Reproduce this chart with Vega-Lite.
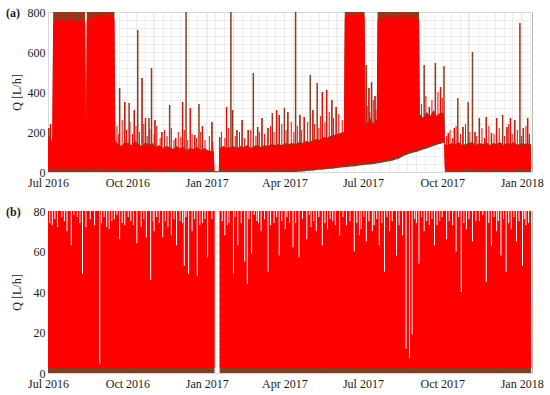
{
"$schema":"https://vega.github.io/schema/vega-lite/v6.json",
"padding":{"left":5,"top":5,"right":5,"bottom":5},
"spacing":15,
"config":{"font":"Liberation Serif","view":{"stroke":"#b4b4b4"},
"axis":{"labelFont":"Liberation Serif","labelFontSize":12,"labelColor":"#1a1a1a","titleFont":"Liberation Serif","titleFontSize":12,"titleFontWeight":"normal","titleColor":"#1a1a1a","ticks":false,"domain":false,"gridColor":"#e6e6e6","gridWidth":0.7,"labelOverlap":false},
"area":{"opacity":1}},
"datasets":{
"env":[
{"d":"2016-07-01","lo":0,"hi":160,"lr":15,"hr":150},
{"d":"2016-07-03","lo":0,"hi":185,"lr":15,"hr":175},
{"d":"2016-07-05","lo":0,"hi":150,"lr":15,"hr":140},
{"d":"2016-07-06","lo":0,"hi":180,"lr":15,"hr":170},
{"d":"2016-07-07","lo":0,"hi":800,"lr":15,"hr":740},
{"d":"2016-07-10","lo":0,"hi":800,"lr":15,"hr":765},
{"d":"2016-07-13","lo":0,"hi":800,"lr":15,"hr":750},
{"d":"2016-07-16","lo":0,"hi":800,"lr":15,"hr":770},
{"d":"2016-07-19","lo":0,"hi":800,"lr":15,"hr":745},
{"d":"2016-07-22","lo":0,"hi":800,"lr":15,"hr":765},
{"d":"2016-07-25","lo":0,"hi":800,"lr":15,"hr":755},
{"d":"2016-07-28","lo":0,"hi":800,"lr":15,"hr":770},
{"d":"2016-07-31","lo":0,"hi":800,"lr":15,"hr":750},
{"d":"2016-08-03","lo":0,"hi":800,"lr":15,"hr":760},
{"d":"2016-08-06","lo":0,"hi":800,"lr":15,"hr":745},
{"d":"2016-08-09","lo":0,"hi":800,"lr":15,"hr":765},
{"d":"2016-08-12","lo":0,"hi":800,"lr":15,"hr":750},
{"d":"2016-08-13","lo":0,"hi":800,"lr":15,"hr":740},
{"d":"2016-08-14","lo":0,"hi":190,"lr":15,"hr":180},
{"d":"2016-08-15","lo":0,"hi":800,"lr":15,"hr":760},
{"d":"2016-08-18","lo":0,"hi":800,"lr":15,"hr":775},
{"d":"2016-08-21","lo":0,"hi":800,"lr":15,"hr":760},
{"d":"2016-08-24","lo":0,"hi":800,"lr":15,"hr":780},
{"d":"2016-08-27","lo":0,"hi":800,"lr":15,"hr":770},
{"d":"2016-08-30","lo":0,"hi":800,"lr":15,"hr":790},
{"d":"2016-09-02","lo":0,"hi":800,"lr":15,"hr":775},
{"d":"2016-09-05","lo":0,"hi":800,"lr":15,"hr":785},
{"d":"2016-09-08","lo":0,"hi":800,"lr":15,"hr":770},
{"d":"2016-09-11","lo":0,"hi":800,"lr":15,"hr":790},
{"d":"2016-09-14","lo":0,"hi":800,"lr":15,"hr":780},
{"d":"2016-09-16","lo":0,"hi":800,"lr":15,"hr":760},
{"d":"2016-09-17","lo":0,"hi":160,"lr":15,"hr":150},
{"d":"2016-09-20","lo":0,"hi":140,"lr":15,"hr":130},
{"d":"2016-09-24","lo":0,"hi":130,"lr":15,"hr":120},
{"d":"2016-09-28","lo":0,"hi":150,"lr":15,"hr":140},
{"d":"2016-10-02","lo":0,"hi":145,"lr":15,"hr":135},
{"d":"2016-10-06","lo":0,"hi":135,"lr":15,"hr":125},
{"d":"2016-10-10","lo":0,"hi":155,"lr":15,"hr":145},
{"d":"2016-10-14","lo":0,"hi":140,"lr":15,"hr":130},
{"d":"2016-10-18","lo":0,"hi":130,"lr":15,"hr":120},
{"d":"2016-10-22","lo":0,"hi":150,"lr":15,"hr":140},
{"d":"2016-10-26","lo":0,"hi":135,"lr":15,"hr":125},
{"d":"2016-10-30","lo":0,"hi":145,"lr":15,"hr":135},
{"d":"2016-11-03","lo":0,"hi":125,"lr":15,"hr":115},
{"d":"2016-11-07","lo":0,"hi":135,"lr":15,"hr":125},
{"d":"2016-11-11","lo":0,"hi":120,"lr":15,"hr":110},
{"d":"2016-11-15","lo":0,"hi":130,"lr":15,"hr":120},
{"d":"2016-11-19","lo":0,"hi":125,"lr":15,"hr":115},
{"d":"2016-11-23","lo":0,"hi":115,"lr":15,"hr":105},
{"d":"2016-11-27","lo":0,"hi":130,"lr":15,"hr":120},
{"d":"2016-12-01","lo":0,"hi":120,"lr":15,"hr":110},
{"d":"2016-12-05","lo":0,"hi":125,"lr":15,"hr":115},
{"d":"2016-12-09","lo":0,"hi":110,"lr":15,"hr":100},
{"d":"2016-12-13","lo":0,"hi":120,"lr":15,"hr":110},
{"d":"2016-12-17","lo":0,"hi":115,"lr":15,"hr":105},
{"d":"2016-12-21","lo":0,"hi":125,"lr":15,"hr":115},
{"d":"2016-12-25","lo":0,"hi":110,"lr":15,"hr":100},
{"d":"2016-12-29","lo":0,"hi":120,"lr":15,"hr":110},
{"d":"2017-01-02","lo":0,"hi":110,"lr":15,"hr":100},
{"d":"2017-01-06","lo":0,"hi":105,"lr":15,"hr":95},
{"d":"2017-01-09","lo":0,"hi":110,"lr":15,"hr":100},
{"d":"2017-01-10","lo":0,"hi":5,"lr":0,"hr":0},
{"d":"2017-01-15","lo":0,"hi":5,"lr":0,"hr":0},
{"d":"2017-01-16","lo":0,"hi":120,"lr":15,"hr":110},
{"d":"2017-01-20","lo":0,"hi":130,"lr":15,"hr":120},
{"d":"2017-01-24","lo":0,"hi":120,"lr":15,"hr":110},
{"d":"2017-01-28","lo":0,"hi":125,"lr":15,"hr":115},
{"d":"2017-02-01","lo":0,"hi":130,"lr":15,"hr":120},
{"d":"2017-02-05","lo":0,"hi":120,"lr":15,"hr":110},
{"d":"2017-02-09","lo":0,"hi":130,"lr":15,"hr":120},
{"d":"2017-02-13","lo":0,"hi":125,"lr":15,"hr":115},
{"d":"2017-02-17","lo":0,"hi":135,"lr":15,"hr":125},
{"d":"2017-02-21","lo":0,"hi":120,"lr":15,"hr":110},
{"d":"2017-02-25","lo":0,"hi":130,"lr":15,"hr":120},
{"d":"2017-03-01","lo":0,"hi":135,"lr":15,"hr":125},
{"d":"2017-03-05","lo":0,"hi":125,"lr":15,"hr":115},
{"d":"2017-03-09","lo":0,"hi":135,"lr":15,"hr":125},
{"d":"2017-03-13","lo":0,"hi":130,"lr":15,"hr":120},
{"d":"2017-03-17","lo":0,"hi":140,"lr":15,"hr":130},
{"d":"2017-03-21","lo":0,"hi":135,"lr":15,"hr":125},
{"d":"2017-03-25","lo":0,"hi":140,"lr":15,"hr":130},
{"d":"2017-03-29","lo":0,"hi":135,"lr":15,"hr":125},
{"d":"2017-04-02","lo":0,"hi":145,"lr":15,"hr":135},
{"d":"2017-04-06","lo":0,"hi":140,"lr":15,"hr":130},
{"d":"2017-04-10","lo":0,"hi":145,"lr":12,"hr":135},
{"d":"2017-04-14","lo":0,"hi":140,"lr":12,"hr":130},
{"d":"2017-04-18","lo":2,"hi":150,"lr":14,"hr":140},
{"d":"2017-04-22","lo":3,"hi":145,"lr":15,"hr":135},
{"d":"2017-04-26","lo":5,"hi":155,"lr":16,"hr":145},
{"d":"2017-04-30","lo":6,"hi":150,"lr":17,"hr":140},
{"d":"2017-05-04","lo":8,"hi":160,"lr":18,"hr":150},
{"d":"2017-05-08","lo":10,"hi":165,"lr":20,"hr":155},
{"d":"2017-05-12","lo":12,"hi":160,"lr":22,"hr":150},
{"d":"2017-05-16","lo":13,"hi":175,"lr":23,"hr":165},
{"d":"2017-05-20","lo":15,"hi":170,"lr":25,"hr":160},
{"d":"2017-05-24","lo":16,"hi":180,"lr":26,"hr":170},
{"d":"2017-05-28","lo":18,"hi":185,"lr":28,"hr":175},
{"d":"2017-06-01","lo":20,"hi":190,"lr":30,"hr":180},
{"d":"2017-06-05","lo":22,"hi":195,"lr":32,"hr":185},
{"d":"2017-06-09","lo":24,"hi":200,"lr":34,"hr":190},
{"d":"2017-06-10","lo":24,"hi":800,"lr":34,"hr":770},
{"d":"2017-06-13","lo":25,"hi":800,"lr":35,"hr":785},
{"d":"2017-06-16","lo":27,"hi":800,"lr":37,"hr":790},
{"d":"2017-06-19","lo":28,"hi":800,"lr":38,"hr":780},
{"d":"2017-06-22","lo":29,"hi":800,"lr":39,"hr":795},
{"d":"2017-06-25","lo":31,"hi":800,"lr":41,"hr":785},
{"d":"2017-06-28","lo":33,"hi":800,"lr":43,"hr":790},
{"d":"2017-07-02","lo":35,"hi":800,"lr":45,"hr":780},
{"d":"2017-07-03","lo":35,"hi":800,"lr":45,"hr":770},
{"d":"2017-07-04","lo":35,"hi":240,"lr":45,"hr":230},
{"d":"2017-07-07","lo":37,"hi":250,"lr":47,"hr":240},
{"d":"2017-07-10","lo":38,"hi":270,"lr":48,"hr":260},
{"d":"2017-07-13","lo":40,"hi":240,"lr":50,"hr":230},
{"d":"2017-07-17","lo":42,"hi":260,"lr":52,"hr":250},
{"d":"2017-07-18","lo":43,"hi":800,"lr":53,"hr":760},
{"d":"2017-07-21","lo":45,"hi":800,"lr":55,"hr":775},
{"d":"2017-07-24","lo":47,"hi":800,"lr":57,"hr":760},
{"d":"2017-07-27","lo":50,"hi":800,"lr":60,"hr":780},
{"d":"2017-07-30","lo":52,"hi":800,"lr":62,"hr":770},
{"d":"2017-08-02","lo":55,"hi":800,"lr":65,"hr":785},
{"d":"2017-08-05","lo":58,"hi":800,"lr":68,"hr":765},
{"d":"2017-08-08","lo":62,"hi":800,"lr":72,"hr":780},
{"d":"2017-08-11","lo":65,"hi":800,"lr":75,"hr":770},
{"d":"2017-08-14","lo":72,"hi":800,"lr":82,"hr":790},
{"d":"2017-08-17","lo":80,"hi":800,"lr":90,"hr":775},
{"d":"2017-08-20","lo":85,"hi":800,"lr":95,"hr":760},
{"d":"2017-08-23","lo":90,"hi":800,"lr":100,"hr":785},
{"d":"2017-08-26","lo":94,"hi":800,"lr":104,"hr":770},
{"d":"2017-08-29","lo":98,"hi":800,"lr":108,"hr":780},
{"d":"2017-09-01","lo":100,"hi":800,"lr":110,"hr":765},
{"d":"2017-09-04","lo":105,"hi":800,"lr":115,"hr":760},
{"d":"2017-09-05","lo":106,"hi":290,"lr":116,"hr":280},
{"d":"2017-09-09","lo":112,"hi":270,"lr":122,"hr":260},
{"d":"2017-09-13","lo":118,"hi":300,"lr":128,"hr":290},
{"d":"2017-09-17","lo":124,"hi":280,"lr":134,"hr":270},
{"d":"2017-09-21","lo":130,"hi":310,"lr":140,"hr":300},
{"d":"2017-09-25","lo":136,"hi":280,"lr":146,"hr":270},
{"d":"2017-09-29","lo":142,"hi":300,"lr":152,"hr":290},
{"d":"2017-10-03","lo":145,"hi":290,"lr":155,"hr":280},
{"d":"2017-10-04","lo":0,"hi":140,"lr":15,"hr":130},
{"d":"2017-10-08","lo":0,"hi":135,"lr":15,"hr":125},
{"d":"2017-10-12","lo":0,"hi":145,"lr":15,"hr":135},
{"d":"2017-10-16","lo":0,"hi":140,"lr":15,"hr":130},
{"d":"2017-10-20","lo":0,"hi":150,"lr":15,"hr":140},
{"d":"2017-10-24","lo":0,"hi":135,"lr":15,"hr":125},
{"d":"2017-10-28","lo":0,"hi":140,"lr":15,"hr":130},
{"d":"2017-11-01","lo":0,"hi":145,"lr":15,"hr":135},
{"d":"2017-11-05","lo":0,"hi":150,"lr":15,"hr":140},
{"d":"2017-11-09","lo":0,"hi":135,"lr":15,"hr":125},
{"d":"2017-11-13","lo":0,"hi":145,"lr":15,"hr":135},
{"d":"2017-11-17","lo":0,"hi":140,"lr":15,"hr":130},
{"d":"2017-11-21","lo":0,"hi":150,"lr":15,"hr":140},
{"d":"2017-11-25","lo":0,"hi":135,"lr":15,"hr":125},
{"d":"2017-11-29","lo":0,"hi":145,"lr":15,"hr":135},
{"d":"2017-12-03","lo":0,"hi":140,"lr":15,"hr":130},
{"d":"2017-12-07","lo":0,"hi":150,"lr":15,"hr":140},
{"d":"2017-12-11","lo":0,"hi":135,"lr":15,"hr":125},
{"d":"2017-12-15","lo":0,"hi":145,"lr":15,"hr":135},
{"d":"2017-12-19","lo":0,"hi":140,"lr":15,"hr":130},
{"d":"2017-12-23","lo":0,"hi":150,"lr":15,"hr":140},
{"d":"2017-12-27","lo":0,"hi":135,"lr":15,"hr":125},
{"d":"2017-12-31","lo":0,"hi":145,"lr":15,"hr":135},
{"d":"2018-01-04","lo":0,"hi":140,"lr":15,"hr":130},
{"d":"2018-01-08","lo":0,"hi":145,"lr":15,"hr":135},
{"d":"2018-01-11","lo":0,"hi":140,"lr":15,"hr":125},
{"d":"2018-01-12","lo":0,"hi":140,"lr":15,"hr":15}
],
"spk":[
{"d":"2016-07-02","lo":0,"hi":220,"c":"r"},
{"d":"2016-07-04","lo":0,"hi":240,"c":"r"},
{"d":"2016-07-15","lo":0,"hi":800,"c":"r"},
{"d":"2016-07-27","lo":0,"hi":800,"c":"r"},
{"d":"2016-08-07","lo":0,"hi":800,"c":"r"},
{"d":"2016-08-24","lo":0,"hi":800,"c":"r"},
{"d":"2016-09-01","lo":0,"hi":800,"c":"r"},
{"d":"2016-09-04","lo":0,"hi":800,"c":"r"},
{"d":"2016-09-09","lo":0,"hi":800,"c":"r"},
{"d":"2016-09-12","lo":0,"hi":800,"c":"r"},
{"d":"2016-09-22","lo":0,"hi":420,"c":"r"},
{"d":"2016-09-28","lo":0,"hi":350,"c":"r"},
{"d":"2016-10-03","lo":0,"hi":345,"c":"b"},
{"d":"2016-10-09","lo":0,"hi":310,"c":"r"},
{"d":"2016-10-13","lo":0,"hi":710,"c":"b"},
{"d":"2016-10-18","lo":0,"hi":470,"c":"r"},
{"d":"2016-10-22","lo":0,"hi":270,"c":"r"},
{"d":"2016-10-26","lo":0,"hi":270,"c":"b"},
{"d":"2016-10-29","lo":0,"hi":520,"c":"b"},
{"d":"2016-11-02","lo":0,"hi":260,"c":"r"},
{"d":"2016-11-10","lo":0,"hi":200,"c":"r"},
{"d":"2016-11-19","lo":0,"hi":335,"c":"b"},
{"d":"2016-11-26","lo":0,"hi":170,"c":"r"},
{"d":"2016-12-04","lo":0,"hi":350,"c":"r"},
{"d":"2016-12-08","lo":0,"hi":800,"c":"b"},
{"d":"2016-12-13","lo":0,"hi":320,"c":"r"},
{"d":"2016-12-18","lo":0,"hi":185,"c":"r"},
{"d":"2016-12-23","lo":0,"hi":340,"c":"b"},
{"d":"2016-12-27","lo":0,"hi":230,"c":"r"},
{"d":"2017-01-07","lo":0,"hi":250,"c":"r"},
{"d":"2017-01-16","lo":0,"hi":175,"c":"b"},
{"d":"2017-01-24","lo":0,"hi":325,"c":"r"},
{"d":"2017-01-29","lo":0,"hi":800,"c":"b"},
{"d":"2017-01-31","lo":0,"hi":310,"c":"b"},
{"d":"2017-02-05","lo":0,"hi":210,"c":"r"},
{"d":"2017-02-11","lo":0,"hi":260,"c":"r"},
{"d":"2017-02-18","lo":0,"hi":210,"c":"r"},
{"d":"2017-02-24","lo":0,"hi":495,"c":"b"},
{"d":"2017-03-01","lo":0,"hi":225,"c":"r"},
{"d":"2017-03-06","lo":0,"hi":270,"c":"r"},
{"d":"2017-03-13","lo":0,"hi":220,"c":"r"},
{"d":"2017-03-18","lo":0,"hi":295,"c":"b"},
{"d":"2017-03-23","lo":0,"hi":310,"c":"r"},
{"d":"2017-03-26","lo":0,"hi":285,"c":"r"},
{"d":"2017-04-01","lo":0,"hi":320,"c":"b"},
{"d":"2017-04-05","lo":0,"hi":300,"c":"r"},
{"d":"2017-04-14","lo":0,"hi":800,"c":"b"},
{"d":"2017-04-19","lo":2,"hi":285,"c":"r"},
{"d":"2017-04-24","lo":4,"hi":275,"c":"r"},
{"d":"2017-05-01","lo":7,"hi":485,"c":"b"},
{"d":"2017-05-04","lo":8,"hi":310,"c":"r"},
{"d":"2017-05-09","lo":10,"hi":445,"c":"b"},
{"d":"2017-05-15","lo":13,"hi":400,"c":"r"},
{"d":"2017-05-20","lo":15,"hi":410,"c":"r"},
{"d":"2017-05-26","lo":17,"hi":360,"c":"r"},
{"d":"2017-05-31","lo":20,"hi":325,"c":"r"},
{"d":"2017-06-15","lo":27,"hi":800,"c":"r"},
{"d":"2017-06-24","lo":30,"hi":800,"c":"r"},
{"d":"2017-07-05","lo":40,"hi":535,"c":"b"},
{"d":"2017-07-08","lo":40,"hi":420,"c":"r"},
{"d":"2017-07-11","lo":40,"hi":450,"c":"r"},
{"d":"2017-07-15","lo":42,"hi":380,"c":"r"},
{"d":"2017-07-25","lo":50,"hi":800,"c":"r"},
{"d":"2017-08-12","lo":70,"hi":800,"c":"r"},
{"d":"2017-08-20","lo":85,"hi":800,"c":"r"},
{"d":"2017-09-10","lo":115,"hi":535,"c":"b"},
{"d":"2017-09-16","lo":125,"hi":325,"c":"r"},
{"d":"2017-09-23","lo":135,"hi":545,"c":"b"},
{"d":"2017-09-29","lo":142,"hi":425,"c":"r"},
{"d":"2017-10-03","lo":145,"hi":530,"c":"b"},
{"d":"2017-10-08","lo":0,"hi":195,"c":"r"},
{"d":"2017-10-15","lo":0,"hi":220,"c":"r"},
{"d":"2017-10-19","lo":0,"hi":370,"c":"b"},
{"d":"2017-10-25","lo":0,"hi":225,"c":"r"},
{"d":"2017-10-31","lo":0,"hi":350,"c":"b"},
{"d":"2017-11-05","lo":0,"hi":600,"c":"b"},
{"d":"2017-11-08","lo":0,"hi":200,"c":"r"},
{"d":"2017-11-13","lo":0,"hi":270,"c":"r"},
{"d":"2017-11-21","lo":0,"hi":275,"c":"r"},
{"d":"2017-11-27","lo":0,"hi":195,"c":"r"},
{"d":"2017-12-03","lo":0,"hi":270,"c":"r"},
{"d":"2017-12-10","lo":0,"hi":285,"c":"b"},
{"d":"2017-12-15","lo":0,"hi":225,"c":"r"},
{"d":"2017-12-19","lo":0,"hi":270,"c":"r"},
{"d":"2017-12-24","lo":0,"hi":260,"c":"r"},
{"d":"2017-12-30","lo":0,"hi":745,"c":"b"},
{"d":"2018-01-03","lo":0,"hi":220,"c":"r"},
{"d":"2018-01-08","lo":0,"hi":270,"c":"r"}
],
"rsp":[
{"d":"2016-09-19","lo":0,"hi":230},{"d":"2016-09-21","lo":0,"hi":190},{"d":"2016-09-25","lo":0,"hi":260},
{"d":"2016-09-30","lo":0,"hi":210},{"d":"2016-10-04","lo":0,"hi":250},{"d":"2016-10-07","lo":0,"hi":190},
{"d":"2016-10-11","lo":0,"hi":230},{"d":"2016-10-15","lo":0,"hi":200},{"d":"2016-10-20","lo":0,"hi":240},
{"d":"2016-10-24","lo":0,"hi":180},{"d":"2016-10-27","lo":0,"hi":215},{"d":"2016-11-01","lo":0,"hi":190},
{"d":"2016-11-04","lo":0,"hi":230},{"d":"2016-11-08","lo":0,"hi":170},{"d":"2016-11-13","lo":0,"hi":210},
{"d":"2016-11-16","lo":0,"hi":180},{"d":"2016-11-21","lo":0,"hi":220},{"d":"2016-11-24","lo":0,"hi":160},
{"d":"2016-11-29","lo":0,"hi":200},{"d":"2016-12-02","lo":0,"hi":175},{"d":"2016-12-06","lo":0,"hi":210},
{"d":"2016-12-10","lo":0,"hi":160},{"d":"2016-12-15","lo":0,"hi":190},{"d":"2016-12-20","lo":0,"hi":170},
{"d":"2016-12-25","lo":0,"hi":200},{"d":"2016-12-30","lo":0,"hi":160},{"d":"2017-01-04","lo":0,"hi":180},
{"d":"2017-01-08","lo":0,"hi":150},{"d":"2017-01-18","lo":0,"hi":200},{"d":"2017-01-22","lo":0,"hi":170},
{"d":"2017-01-26","lo":0,"hi":220},{"d":"2017-02-03","lo":0,"hi":180},{"d":"2017-02-08","lo":0,"hi":200},
{"d":"2017-02-14","lo":0,"hi":170},{"d":"2017-02-21","lo":0,"hi":210},{"d":"2017-02-27","lo":0,"hi":180},
{"d":"2017-03-03","lo":0,"hi":200},{"d":"2017-03-09","lo":0,"hi":190},{"d":"2017-03-16","lo":0,"hi":230},
{"d":"2017-03-20","lo":0,"hi":200},{"d":"2017-03-29","lo":0,"hi":240},{"d":"2017-04-03","lo":0,"hi":210},
{"d":"2017-04-09","lo":0,"hi":250},{"d":"2017-04-12","lo":0,"hi":200},{"d":"2017-04-16","lo":1,"hi":230},
{"d":"2017-04-21","lo":3,"hi":210},{"d":"2017-04-28","lo":6,"hi":250},{"d":"2017-05-06","lo":9,"hi":240},
{"d":"2017-05-11","lo":11,"hi":220},{"d":"2017-05-13","lo":12,"hi":280},{"d":"2017-05-18","lo":14,"hi":250},
{"d":"2017-05-23","lo":16,"hi":300},{"d":"2017-05-28","lo":18,"hi":270},{"d":"2017-06-03","lo":21,"hi":290},
{"d":"2017-06-07","lo":23,"hi":260},{"d":"2017-07-06","lo":45,"hi":330},{"d":"2017-07-09","lo":47,"hi":300},
{"d":"2017-07-13","lo":50,"hi":360},{"d":"2017-07-16","lo":52,"hi":310},{"d":"2017-09-07","lo":118,"hi":340},
{"d":"2017-09-12","lo":126,"hi":380},{"d":"2017-09-19","lo":137,"hi":360},{"d":"2017-09-26","lo":147,"hi":400},
{"d":"2017-10-01","lo":153,"hi":370},{"d":"2017-10-06","lo":0,"hi":180},{"d":"2017-10-10","lo":0,"hi":210},
{"d":"2017-10-13","lo":0,"hi":170},{"d":"2017-10-17","lo":0,"hi":230},{"d":"2017-10-22","lo":0,"hi":190},
{"d":"2017-10-28","lo":0,"hi":240},{"d":"2017-11-02","lo":0,"hi":200},{"d":"2017-11-10","lo":0,"hi":180},
{"d":"2017-11-16","lo":0,"hi":220},{"d":"2017-11-19","lo":0,"hi":170},{"d":"2017-11-24","lo":0,"hi":230},
{"d":"2017-11-30","lo":0,"hi":190},{"d":"2017-12-06","lo":0,"hi":220},{"d":"2017-12-12","lo":0,"hi":180},
{"d":"2017-12-17","lo":0,"hi":240},{"d":"2017-12-21","lo":0,"hi":190},{"d":"2017-12-27","lo":0,"hi":210},
{"d":"2018-01-01","lo":0,"hi":180},{"d":"2018-01-06","lo":0,"hi":230},{"d":"2018-01-10","lo":0,"hi":190}
],
"bot":[
{"d":"2016-07-01","seg":1,"lo":0,"hi":80,"lr":2.5,"hr":80},
{"d":"2017-01-10","seg":1,"lo":0,"hi":80,"lr":2.5,"hr":80},
{"d":"2017-01-16","seg":2,"lo":0,"hi":80,"lr":2.5,"hr":80},
{"d":"2018-01-11","seg":2,"lo":0,"hi":80,"lr":2.5,"hr":80},
{"d":"2018-01-12","seg":2,"lo":0,"hi":80,"lr":2.5,"hr":2.5}
],
"dip":[
{"d":"2016-07-03","lo":74,"hi":80},{"d":"2016-07-06","lo":73,"hi":80},{"d":"2016-07-09","lo":76,"hi":80},
{"d":"2016-07-12","lo":72,"hi":80},{"d":"2016-07-17","lo":77,"hi":80},{"d":"2016-07-20","lo":75,"hi":80},
{"d":"2016-07-23","lo":70,"hi":80},{"d":"2016-07-28","lo":63,"hi":80},{"d":"2016-07-31","lo":78,"hi":80},
{"d":"2016-08-04","lo":77,"hi":80},{"d":"2016-08-07","lo":74,"hi":80},{"d":"2016-08-10","lo":49,"hi":80},
{"d":"2016-08-14","lo":72,"hi":80},{"d":"2016-08-19","lo":76,"hi":80},{"d":"2016-08-24","lo":73,"hi":80},
{"d":"2016-08-30","lo":4.5,"hi":80},{"d":"2016-09-01","lo":74,"hi":80},{"d":"2016-09-04","lo":77,"hi":80},
{"d":"2016-09-07","lo":72,"hi":80},{"d":"2016-09-10","lo":71,"hi":80},{"d":"2016-09-13","lo":75,"hi":80},
{"d":"2016-09-16","lo":76,"hi":80},{"d":"2016-09-19","lo":78,"hi":80},{"d":"2016-09-22","lo":66,"hi":80},
{"d":"2016-09-25","lo":74,"hi":80},{"d":"2016-09-28","lo":73,"hi":80},{"d":"2016-10-02","lo":77,"hi":80},
{"d":"2016-10-05","lo":75,"hi":80},{"d":"2016-10-08","lo":73,"hi":80},{"d":"2016-10-12","lo":64,"hi":80},
{"d":"2016-10-17","lo":72,"hi":80},{"d":"2016-10-20","lo":76,"hi":80},{"d":"2016-10-23","lo":67,"hi":80},
{"d":"2016-10-28","lo":46,"hi":80},{"d":"2016-10-31","lo":75,"hi":80},{"d":"2016-11-01","lo":70,"hi":80},
{"d":"2016-11-04","lo":77,"hi":80},{"d":"2016-11-07","lo":74,"hi":80},{"d":"2016-11-11","lo":67,"hi":80},
{"d":"2016-11-14","lo":75,"hi":80},{"d":"2016-11-17","lo":72,"hi":80},{"d":"2016-11-21","lo":68,"hi":80},
{"d":"2016-11-24","lo":76,"hi":80},{"d":"2016-11-27","lo":63,"hi":80},{"d":"2016-12-01","lo":75,"hi":80},
{"d":"2016-12-04","lo":74,"hi":80},{"d":"2016-12-06","lo":53,"hi":80},{"d":"2016-12-08","lo":77,"hi":80},
{"d":"2016-12-11","lo":49,"hi":80},{"d":"2016-12-15","lo":70,"hi":80},{"d":"2016-12-18","lo":76,"hi":80},
{"d":"2016-12-21","lo":48,"hi":80},{"d":"2016-12-24","lo":73,"hi":80},{"d":"2016-12-27","lo":74,"hi":80},
{"d":"2016-12-30","lo":76,"hi":80},{"d":"2017-01-02","lo":57,"hi":80},{"d":"2017-01-07","lo":76,"hi":80},
{"d":"2017-01-19","lo":75,"hi":80},{"d":"2017-01-22","lo":68,"hi":80},{"d":"2017-01-25","lo":73,"hi":80},
{"d":"2017-01-27","lo":74,"hi":80},{"d":"2017-02-01","lo":49,"hi":80},{"d":"2017-02-03","lo":77,"hi":80},
{"d":"2017-02-06","lo":63,"hi":80},{"d":"2017-02-10","lo":74,"hi":80},{"d":"2017-02-14","lo":55,"hi":80},
{"d":"2017-02-17","lo":44,"hi":80},{"d":"2017-02-19","lo":76,"hi":80},{"d":"2017-02-22","lo":59,"hi":80},
{"d":"2017-02-25","lo":78,"hi":80},{"d":"2017-02-28","lo":75,"hi":80},{"d":"2017-03-02","lo":74,"hi":80},
{"d":"2017-03-05","lo":70,"hi":80},{"d":"2017-03-09","lo":76,"hi":80},{"d":"2017-03-13","lo":50,"hi":80},
{"d":"2017-03-16","lo":73,"hi":80},{"d":"2017-03-20","lo":74,"hi":80},{"d":"2017-03-23","lo":77,"hi":80},
{"d":"2017-03-26","lo":58,"hi":80},{"d":"2017-03-29","lo":75,"hi":80},{"d":"2017-04-02","lo":71,"hi":80},
{"d":"2017-04-04","lo":77,"hi":80},{"d":"2017-04-07","lo":74,"hi":80},{"d":"2017-04-11","lo":62,"hi":80},
{"d":"2017-04-14","lo":74,"hi":80},{"d":"2017-04-18","lo":57,"hi":80},{"d":"2017-04-22","lo":76,"hi":80},
{"d":"2017-04-27","lo":66,"hi":80},{"d":"2017-04-30","lo":78,"hi":80},{"d":"2017-05-02","lo":72,"hi":80},
{"d":"2017-05-05","lo":75,"hi":80},{"d":"2017-05-08","lo":70,"hi":80},{"d":"2017-05-11","lo":77,"hi":80},
{"d":"2017-05-15","lo":63,"hi":80},{"d":"2017-05-18","lo":74,"hi":80},{"d":"2017-05-21","lo":71,"hi":80},
{"d":"2017-05-24","lo":76,"hi":80},{"d":"2017-05-27","lo":75,"hi":80},{"d":"2017-05-30","lo":73,"hi":80},
{"d":"2017-06-04","lo":68,"hi":80},{"d":"2017-06-08","lo":77,"hi":80},{"d":"2017-06-12","lo":73,"hi":80},
{"d":"2017-06-16","lo":75,"hi":80},{"d":"2017-06-21","lo":60,"hi":80},{"d":"2017-06-24","lo":74,"hi":80},
{"d":"2017-06-27","lo":68,"hi":80},{"d":"2017-06-29","lo":71,"hi":80},{"d":"2017-07-02","lo":77,"hi":80},
{"d":"2017-07-05","lo":65,"hi":80},{"d":"2017-07-08","lo":75,"hi":80},{"d":"2017-07-12","lo":70,"hi":80},
{"d":"2017-07-14","lo":73,"hi":80},{"d":"2017-07-17","lo":76,"hi":80},{"d":"2017-07-20","lo":63,"hi":80},
{"d":"2017-07-23","lo":74,"hi":80},{"d":"2017-07-26","lo":50,"hi":80},{"d":"2017-07-29","lo":77,"hi":80},
{"d":"2017-08-01","lo":70,"hi":80},{"d":"2017-08-04","lo":75,"hi":80},{"d":"2017-08-09","lo":58,"hi":80},
{"d":"2017-08-12","lo":73,"hi":80},{"d":"2017-08-16","lo":68,"hi":80},{"d":"2017-08-20","lo":12,"hi":80},
{"d":"2017-08-24","lo":7.5,"hi":80},{"d":"2017-08-27","lo":19,"hi":80},{"d":"2017-08-30","lo":76,"hi":80},
{"d":"2017-09-01","lo":74,"hi":80},{"d":"2017-09-04","lo":54,"hi":80},{"d":"2017-09-07","lo":77,"hi":80},
{"d":"2017-09-10","lo":70,"hi":80},{"d":"2017-09-13","lo":75,"hi":80},{"d":"2017-09-16","lo":73,"hi":80},
{"d":"2017-09-19","lo":76,"hi":80},{"d":"2017-09-22","lo":63,"hi":80},{"d":"2017-09-25","lo":73,"hi":80},
{"d":"2017-09-28","lo":75,"hi":80},{"d":"2017-10-01","lo":77,"hi":80},{"d":"2017-10-06","lo":66,"hi":80},
{"d":"2017-10-09","lo":75,"hi":80},{"d":"2017-10-13","lo":73,"hi":80},{"d":"2017-10-17","lo":60,"hi":80},
{"d":"2017-10-20","lo":77,"hi":80},{"d":"2017-10-23","lo":40,"hi":80},{"d":"2017-10-26","lo":74,"hi":80},
{"d":"2017-10-29","lo":71,"hi":80},{"d":"2017-11-01","lo":76,"hi":80},{"d":"2017-11-05","lo":65,"hi":80},
{"d":"2017-11-09","lo":75,"hi":80},{"d":"2017-11-13","lo":75,"hi":80},{"d":"2017-11-17","lo":78,"hi":80},
{"d":"2017-11-21","lo":45,"hi":80},{"d":"2017-11-24","lo":74,"hi":80},{"d":"2017-11-27","lo":63,"hi":80},
{"d":"2017-11-30","lo":77,"hi":80},{"d":"2017-12-03","lo":70,"hi":80},{"d":"2017-12-05","lo":75,"hi":80},
{"d":"2017-12-08","lo":58,"hi":80},{"d":"2017-12-11","lo":76,"hi":80},{"d":"2017-12-14","lo":50,"hi":80},
{"d":"2017-12-17","lo":74,"hi":80},{"d":"2017-12-20","lo":71,"hi":80},{"d":"2017-12-23","lo":77,"hi":80},
{"d":"2017-12-26","lo":65,"hi":80},{"d":"2017-12-29","lo":75,"hi":80},{"d":"2018-01-02","lo":53,"hi":80},
{"d":"2018-01-04","lo":76,"hi":80},{"d":"2018-01-06","lo":73,"hi":80},{"d":"2018-01-09","lo":74,"hi":80}
]
},
"vconcat":[
{
"width":484,"height":160,
"title":{"text":"(a)","anchor":"start","frame":"bounds","dx":-4,"dy":14,"offset":0,"fontSize":12,"fontWeight":"bold","font":"Liberation Serif","color":"#1a1a1a"},
"encoding":{
"x":{"field":"d","type":"temporal","title":null,"scale":{"domain":["2016-07-01","2018-01-13"]},
"axis":{"tickCount":{"interval":"day","step":10},"labelFlush":false,"labelPadding":5,"labelExpr":"month(datum.value) % 3 == 0 && date(datum.value) == 1 ? timeFormat(datum.value, '%b %Y') : ''"}},
"y":{"field":"hi","type":"quantitative","title":"Q [L/h]","scale":{"domain":[0,800],"nice":false},
"axis":{"values":[0,40,80,120,160,200,240,280,320,360,400,440,480,520,560,600,640,680,720,760,800],"labelExpr":"datum.value % 200 == 0 ? datum.label : ''","labelPadding":3,"titlePadding":4}},
"y2":{"field":"lo"}
},
"layer":[
{"data":{"name":"env"},"mark":{"type":"area","color":"#8c3c1e","opacity":1}},
{"data":{"name":"spk"},"mark":{"type":"rule","color":"#8c3c1e","strokeWidth":1.5}},
{"data":{"name":"env"},"mark":{"type":"area","color":"#ff0000","opacity":1},
 "encoding":{"y":{"field":"hr","type":"quantitative","title":"Q [L/h]"},"y2":{"field":"lr"}}},
{"data":{"name":"rsp"},"mark":{"type":"rule","color":"#ff0000","strokeWidth":1}},
{"data":{"name":"spk"},"transform":[{"filter":"datum.c == 'r'"}],"mark":{"type":"rule","color":"#ff0000","strokeWidth":0.7}}
]
},
{
"width":484,"height":162,
"title":{"text":"(b)","anchor":"start","frame":"bounds","dx":-4,"dy":14,"offset":0,"fontSize":12,"fontWeight":"bold","font":"Liberation Serif","color":"#1a1a1a"},
"encoding":{
"x":{"field":"d","type":"temporal","title":null,"scale":{"domain":["2016-07-01","2018-01-13"]},
"axis":{"tickCount":{"interval":"day","step":10},"labelFlush":false,"labelPadding":5,"labelExpr":"month(datum.value) % 3 == 0 && date(datum.value) == 1 ? timeFormat(datum.value, '%b %Y') : ''"}},
"y":{"field":"hi","type":"quantitative","title":"Q [L/h]","scale":{"domain":[0,80],"nice":false},
"axis":{"values":[0,4,8,12,16,20,24,28,32,36,40,44,48,52,56,60,64,68,72,76,80],"labelExpr":"datum.value % 20 == 0 ? datum.label : ''","labelPadding":3,"titlePadding":10}},
"y2":{"field":"lo"}
},
"layer":[
{"data":{"name":"bot"},"mark":{"type":"area","color":"#8c3c1e","opacity":1},"encoding":{"detail":{"field":"seg"}}},
{"data":{"name":"bot"},"mark":{"type":"area","color":"#ff0000","opacity":1},
 "encoding":{"detail":{"field":"seg"},"y":{"field":"hr","type":"quantitative","title":"Q [L/h]"},"y2":{"field":"lr"}}},
{"data":{"name":"dip"},"mark":{"type":"rule","color":"#ffffff","strokeWidth":1}}
]
}
]
}
